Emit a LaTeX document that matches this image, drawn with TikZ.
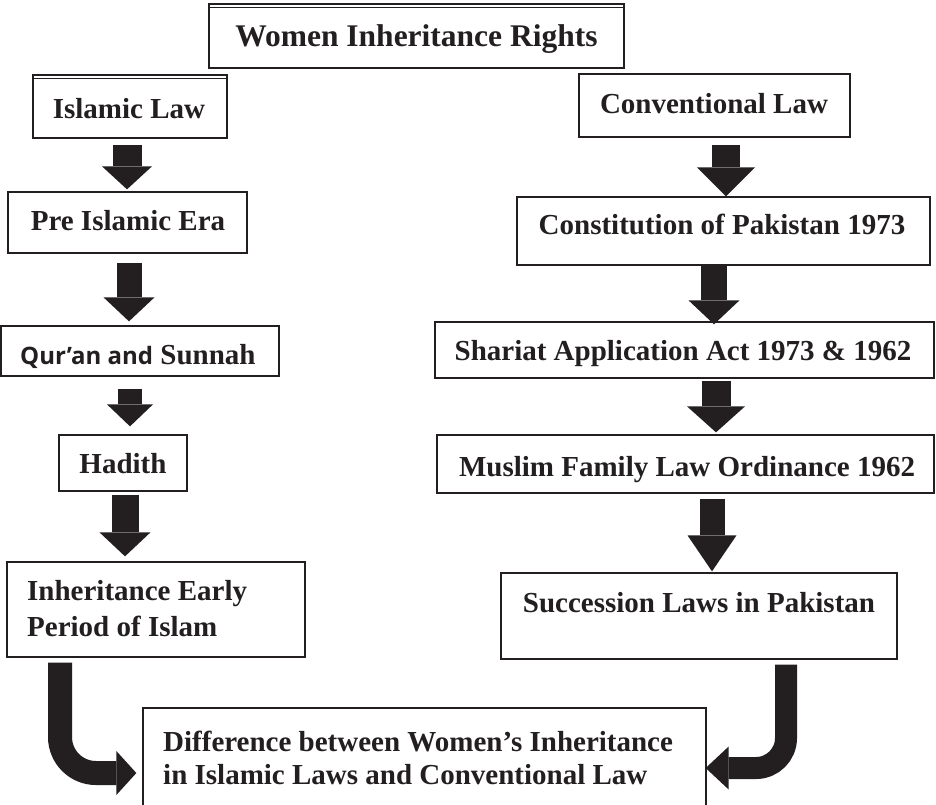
\documentclass[tikz,border=0pt]{standalone}
\usepackage{fontspec}
\setmainfont{Liberation Serif}
\newfontfamily\qsans{Open Sans}
\usetikzlibrary{arrows.meta}
\definecolor{ink}{RGB}{35,31,32}
\begin{document}
\begin{tikzpicture}[x=1pt,y=-1pt,
  box/.style={draw=ink, line width=1.3pt, inner sep=0pt},
  txt/.style={font=\fontsize{29}{33}\selectfont\bfseries, text=ink, inner sep=0pt},
  blk/.style args={#1/#2/#3}{draw=ink, line width=#1, -{Triangle[width=#2,length=#3,line width=0pt]}},
  bent/.style args={#1/#2/#3/#4}{draw=ink, line width=#1, rounded corners=#4, -{Triangle[width=#2,length=#3,line width=0pt]}}
]
\useasboundingbox (0,0) rectangle (936,804);
\fill[white] (0,0) rectangle (936,804);

% boxes
\node[box, minimum width=415pt, minimum height=64pt] (title) at (416.5,36) {};
\node[box, minimum width=194pt, minimum height=63pt] (islamic) at (130,106.5) {};
\node[box, minimum width=271pt, minimum height=63pt] (conv) at (714.5,105.5) {};
\node[box, minimum width=239pt, minimum height=61pt] (pre) at (127.5,222.5) {};
\node[box, minimum width=413pt, minimum height=68pt] (const) at (723.5,231) {};
\node[box, minimum width=278pt, minimum height=50pt] (quran) at (140,351) {};
\node[box, minimum width=499pt, minimum height=56pt] (shariat) at (684.5,350) {};
\node[box, minimum width=128pt, minimum height=56pt] (hadith) at (123,463) {};
\node[box, minimum width=497pt, minimum height=58pt] (muslim) at (685.5,464) {};
\node[box, minimum width=298pt, minimum height=95pt] (inh) at (156,609.5) {};
\node[box, minimum width=396pt, minimum height=86pt] (succ) at (699,616) {};
\node[box, minimum width=563pt, minimum height=104pt] (diff) at (424.5,760) {};

% double top lines
\draw[draw=ink, line width=1.3pt] ([yshift=-4pt]title.north west) -- ([yshift=-4pt]title.north east);
\draw[draw=ink, line width=1.3pt] ([yshift=-4pt]islamic.north west) -- ([yshift=-4pt]islamic.north east);

% texts
\node[txt, anchor=base] (ttitle) at (416.5,46) {\fontsize{31.5}{35}\selectfont Women Inheritance Rights};
\node[txt, anchor=base] (tislamic) at (129,118) {Islamic Law};
\node[txt, anchor=base] (tconv) at (714,113) {Conventional Law};
\node[txt, anchor=base] (tpre) at (128,230) {Pre Islamic Era};
\node[txt, anchor=base] (tconst) at (722,234) {Constitution of Pakistan 1973};
\node[txt, anchor=base west] (tquran) at (20,364) {{\qsans\fontsize{24}{28}\selectfont Qur’an and} Sunnah};
\node[txt, anchor=base] (tshariat) at (683,360) {Shariat Application Act 1973 \& 1962};
\node[txt, anchor=base] (thadith) at (123,473) {Hadith};
\node[txt, anchor=base] (tmuslim) at (687,476) {Muslim Family Law Ordinance 1962};
\node[txt, anchor=base west] (tinh1) at (27,600) {Inheritance Early};
\node[txt, anchor=base west] (tinh2) at (27,636) {Period of Islam};
\node[txt, anchor=base] (tsucc) at (699,612) {Succession Laws in Pakistan};
\node[txt, anchor=base west] (tdiff1) at (163,751) {Difference between Women’s Inheritance};
\node[txt, anchor=base west] (tdiff2) at (163,784) {in Islamic Laws and Conventional Law};

% block arrows, left column
\draw[blk={29pt/50pt/23pt}, shorten <=6pt, shorten >=2pt] (islamic.south -| 127,0) -- (pre.north -| 127,0);
\draw[blk={25pt/51pt/24pt}, shorten <=9pt, shorten >=4pt] (pre.south -| 129,0) -- (quran.north -| 129,0);
\draw[blk={24pt/46pt/22pt}, shorten <=12pt, shorten >=8pt] (quran.south -| 130,0) -- (hadith.north -| 130,0);
\draw[blk={27pt/51pt/24pt}, shorten <=3pt, shorten >=5pt] (hadith.south -| 125,0) -- (inh.north -| 125,0);

% block arrows, right column
\draw[blk={28pt/58pt/29pt}, shorten <=7pt, shorten >=0pt] (conv.south -| 726,0) -- (const.north -| 726,0);
\draw[blk={26pt/51pt/24pt}, shorten <=0pt, shorten >=-3pt] (const.south -| 714,0) -- (shariat.north -| 714,0);
\draw[blk={29pt/58pt/26pt}, shorten <=2pt, shorten >=2pt] (shariat.south -| 716,0) -- (muslim.north -| 716,0);
\draw[blk={25pt/49pt/36pt}, shorten <=5pt, shorten >=1pt] (muslim.south -| 712,0) -- (succ.north -| 712,0);

% bent arrows
\draw[bent={24pt/44pt/20pt/36pt}, shorten <=5pt, shorten >=6pt] (inh.south -| 60,0) |- (diff.west |- 0,773);
\draw[bent={22pt/43pt/23pt/30pt}, shorten <=5pt, shorten >=-1pt] (succ.south -| 786,0) |- (diff.east |- 0,768);
\end{tikzpicture}
\end{document}
